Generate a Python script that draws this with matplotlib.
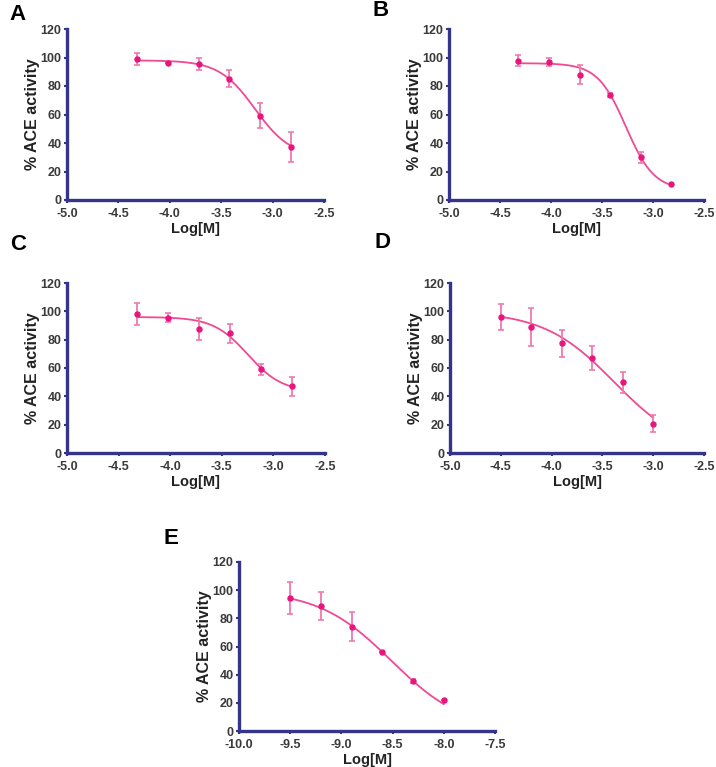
import numpy as np
import matplotlib
matplotlib.use("Agg")
import matplotlib.pyplot as plt

plt.rcParams['font.family'] = ['Liberation Sans', 'DejaVu Sans']

# ---- data ----
x_abc = [-4.32, -4.02, -3.72, -3.42, -3.12, -2.82]
x_d = [-4.5, -4.2, -3.9, -3.6, -3.3, -3.0]
x_e = [-9.5, -9.2, -8.9, -8.6, -8.3, -8.0]

y_a = [99.2, 96.0, 95.5, 85.0, 59.2, 37.5]
e_a = [4.2, 0.0, 4.1, 6.0, 9.0, 10.5]
y_b = [97.7, 96.6, 88.0, 73.8, 30.0, 11.0]
e_b = [3.9, 2.9, 6.8, 1.5, 3.7, 0.0]
y_c = [98.3, 95.6, 87.4, 84.5, 59.0, 47.0]
e_c = [7.9, 3.0, 7.9, 6.7, 3.9, 7.0]
y_d = [96.3, 88.8, 77.4, 67.2, 50.0, 20.8]
e_d = [9.2, 13.4, 9.7, 8.5, 7.3, 6.2]
y_e = [94.6, 88.6, 74.1, 56.0, 35.3, 21.7]
e_e = [11.3, 10.0, 10.2, 0.0, 1.5, 0.0]

# 4PL fit parameters (top, bottom, logIC50, hill)
fit_a = (98.0, 30.0, -3.172, 2.49)
fit_b = (96.0, 7.0, -3.266, 3.14)
fit_c = (96.0, 43.0, -3.248, 2.6)
fit_d = (100.0, 0.0, -3.383, 1.25)
fit_e = (100.0, 0.0, -8.514, 1.22)

xt_main = [-5.0, -4.5, -4.0, -3.5, -3.0, -2.5]
xt_e = [-10.0, -9.5, -9.0, -8.5, -8.0, -7.5]
yt = [0, 20, 40, 60, 80, 100, 120]

panels = [
    ("A", x_abc, y_a, e_a, fit_a, xt_main),
    ("B", x_abc, y_b, e_b, fit_b, xt_main),
    ("C", x_abc, y_c, e_c, fit_c, xt_main),
    ("D", x_d, y_d, e_d, fit_d, xt_main),
    ("E", x_e, y_e, e_e, fit_e, xt_e),
]

W, H = 716, 767
# axes boxes in pixels: left, top(y=120), right, bottom(y=0)
boxes = {
    "A": (67, 29, 324, 200),
    "B": (449, 29, 704, 200),
    "C": (67, 283, 325, 453),
    "D": (450, 283, 704, 453),
    "E": (239, 562, 495, 731),
}
letters = {"A": (18, 14), "B": (381, 11), "C": (18, 244), "D": (382, 243), "E": (171, 538)}

navy = "#33348a"
pink_pt = "#e8157f"
pink_line = "#ef4a94"
pink_err = "#f07aae"
txt = "#3a3a3a"

fig = plt.figure(figsize=(W / 100, H / 100), dpi=100)

for name, xs, ys, es, fit, xt in panels:
    l, t, r, b = boxes[name]
    ax = fig.add_axes([l / W, 1 - b / H, (r - l) / W, (b - t) / H])
    top, bot, c, h = fit
    xx = np.linspace(xs[0], xs[-1], 200)
    yy = bot + (top - bot) / (1 + 10 ** ((xx - c) * h))
    ax.plot(xx, yy, color=pink_line, lw=1.3, zorder=2)
    ax.errorbar(xs, ys, yerr=es, fmt='none', ecolor=pink_err, elinewidth=1.3,
                capsize=2.5, capthick=1.2, zorder=3)
    ax.plot(xs, ys, 'o', color=pink_pt, ms=3.6, zorder=4)
    ax.set_xlim(xt[0], xt[-1])
    ax.set_ylim(0, 120)
    ax.set_xticks(xt)
    ax.set_xticklabels([f"{v:.1f}" for v in xt])
    ax.set_yticks(yt)
    ax.set_yticklabels([str(v) for v in yt])
    for s in ("top", "right"):
        ax.spines[s].set_visible(False)
    for s in ("left", "bottom"):
        ax.spines[s].set_color(navy)
        ax.spines[s].set_linewidth(2.4)
    ax.tick_params(direction='out', length=2.5, width=1.5, color=navy,
                   labelsize=9, labelcolor=txt, pad=1.5)
    ax.tick_params(axis='x', pad=3)
    for lab in ax.get_xticklabels() + ax.get_yticklabels():
        lab.set_fontweight('bold')
    ax.set_xlabel("Log[M]", fontsize=10.5, fontweight='bold', color='#222222', labelpad=2)
    ax.set_ylabel("% ACE activity", fontsize=11.5, fontweight='bold', color='#222222', labelpad=0.5)
    ax.patch.set_alpha(0)
    lx, ly = letters[name]
    fig.text(lx / W, 1 - ly / H, name, fontsize=16, fontweight='bold',
             color='black', ha='center', va='center')

fig.savefig("out.png", dpi=100)
